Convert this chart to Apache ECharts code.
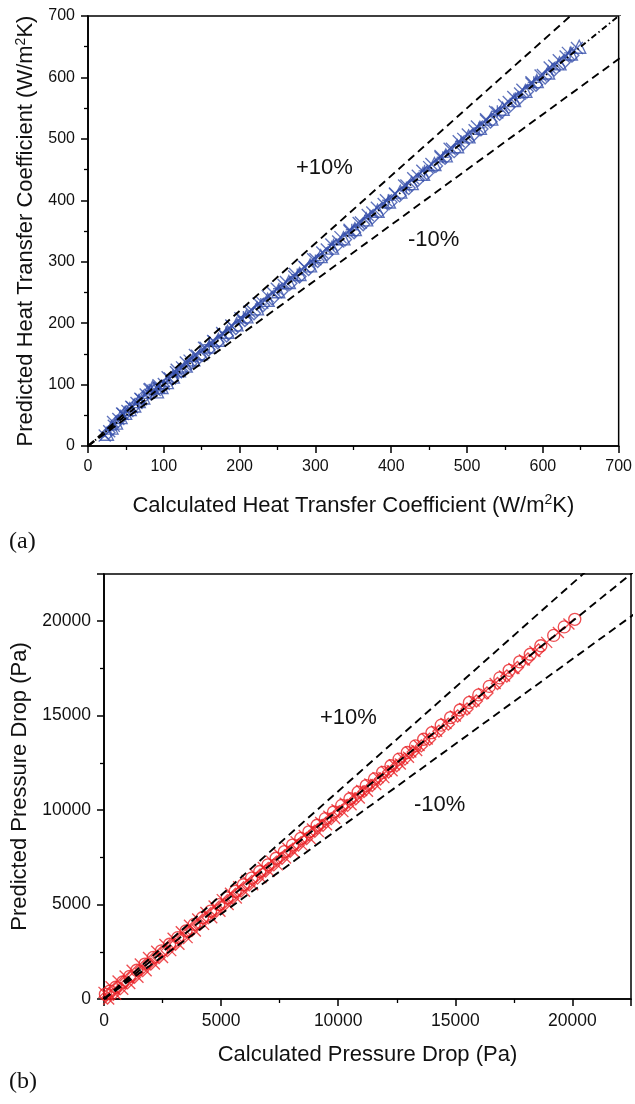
<!DOCTYPE html>
<html>
<head>
<meta charset="utf-8">
<script src="https://cdn.jsdelivr.net/npm/echarts@6/dist/echarts.min.js"></script>
<style>
html,body{margin:0;padding:0;background:#fff;}
#c{width:635px;height:1104px;}
</style>
</head>
<body>
<div id="c"></div>
<script>
// ---------- (a) Heat transfer coefficient ----------
const heatTicks = [0, 100, 200, 300, 400, 500, 600, 700];
const heatCalcX = [22,28,34,40,46,52,58,64,70,76,82,88,94,100,108,116,124,134,144,155,166,178,190,203,216,230,244,258,272,286,300,315,330,345,360,375,390,405,420,435,450,465,480,495,510,525,540,555,570,585,600,615,630,645];
const heatPredX = [17,24,33,44,52,57,63,70,76,84,93,91,95,101,110,120,128,139,147,160,170,182,195,207,221,233,249,262,276,291,304,320,333,350,364,380,394,410,424,440,454,470,484,500,514,530,543,560,574,590,604,619,634,648];
const heatCalcTri = [25,31,37,43,49,55,61,67,73,79,85,91,97,104,112,120,129,139,149,160,172,184,196,209,223,237,251,265,279,293,307,322,337,352,367,382,397,412,427,442,457,472,487,502,517,532,547,562,577,592,607,622,637,648];
const heatPredTri = [20,30,38,47,54,60,66,73,79,88,95,89,96,104,113,123,131,141,151,162,173,186,198,211,224,238,252,267,280,294,309,323,338,353,369,383,398,414,428,443,459,473,488,504,518,533,549,563,578,594,608,623,639,650];
const heatCalcPlus = [30,48,66,84,100,118,138,160,182,205,228,252,276,300,324,348,372,396,420,444,468,492,516,540,564,588,612,636];
const heatPredPlus = [26,50,70,90,97,118,138,165,185,210,231,256,279,302,328,352,375,400,421,448,470,496,518,545,566,592,614,640];
const heatCalcDia = [27,39,51,63,75,87,99,111,123,135,147,159,171,183,195,207,219,231,243,255,267,279,291,303,315,327,339,351,363,375,387,399,411,423,435,447,459,471,483,495,507,519,531,543,555,567,579,591,603,615,627,639];
const heatPredDia = [22,40,55,67,82,93,97,110,122,134,145,157,169,180,192,205,216,229,240,252,265,276,288,301,312,325,336,348,361,372,384,397,408,420,433,444,456,469,480,492,505,516,528,541,552,564,577,588,600,613,624,636];
const heatCalcX2 = [33,45,57,69,81,93,105,117,129,141,153,165,177,189,201,213,225,237,249,261,273,285,297,309,321,333,345,357,369,381,393,405,417,429,441,453,465,477,489,501,513,525,537,549,561,573,585,597,609,621,633];
const heatPredX2 = [39,53,64,77,92,99,112,124,136,148,160,171,184,196,208,219,232,244,256,267,280,292,304,315,328,340,352,363,376,388,400,411,424,436,448,459,472,484,496,507,520,532,544,555,568,580,592,603,616,628,640];

// ---------- (b) Pressure drop ----------
const pressTicks = [0, 5000, 10000, 15000, 20000];
const pressCalcCirc = [60,250,500,800,1100,1400,1750,2100,2450,2800,3150,3500,3850,4200,4550,4900,5250,5600,5950,6300,6650,7000,7350,7700,8050,8400,8750,9100,9450,9800,10150,10500,10850,11200,11550,11900,12250,12600,12950,13300,13650,14000,14400,14800,15200,15600,16000,16450,16900,17300,17750,18200,18650,19200,19650,20100];
const pressPredCirc = [250,420,620,900,1200,1520,1850,2200,2550,2900,3250,3600,3950,4300,4650,5000,5350,5700,6050,6400,6750,7100,7450,7800,8150,8500,8850,9200,9550,9900,10250,10600,10950,11300,11650,12000,12350,12700,13050,13400,13750,14100,14500,14900,15300,15700,16100,16550,17000,17400,17850,18250,18700,19250,19700,20100];
const pressCalcDia = [150,400,700,1000,1300,1650,2000,2350,2700,3050,3400,3750,4100,4450,4800,5150,5500,5850,6200,6550,6900,7250,7600,7950,8300,8650,9000,9350,9700,10050,10400,10750,11100,11450,11800,12150,12500,12850,13200,13550,13900,14300,14700,15100,15500,15900,16350,16800,17200,17650,18100,18550];
const pressPredDia = [50,250,550,860,1150,1500,1850,2200,2560,2900,3250,3620,3950,4300,4660,5000,5350,5720,6050,6400,6780,7100,7450,7820,8150,8500,8880,9200,9550,9920,10250,10600,10980,11300,11650,12020,12350,12700,13080,13400,13750,14180,14550,14980,15350,15780,16200,16700,17100,17550,18000,18480];
const pressCalcX = [0,300,600,900,1200,1550,1900,2250,2600,2950,3300,3650,4000,4350,4700,5050,5400,5750,6100,6450,6800,7150,7500,7850,8200,8550,8900,9250,9600,9950,10300,10650,11000,11350,11700,12050,12400,12750,13100,13450,13800,14200,14600,15000,15400,15800,16200,16700,17100,17500,17950,18400,18900,19400,19850];
const pressPredX = [350,650,950,1220,1520,1850,2200,2530,2880,3220,3560,3900,4240,4580,4920,5260,5600,5940,6280,6620,6960,7300,7640,7980,8320,8660,9000,9340,9680,10020,10360,10700,11040,11380,11720,12060,12400,12740,13080,13420,13760,14180,14580,14980,15380,15780,16180,16700,17100,17500,17950,18400,18880,19400,19850];
const pressCalcX2 = [200,500,800,1100,1450,1800,2150,2500,2850,3200,3550,3900,4250,4600,4950,5300,5650,6000,6350,6700,7050,7400,7750,8100,8450,8800,9150,9500,9850,10200,10550,10900,11250,11600,11950,12300,12650,13000,13350];
const pressPredX2 = [0,250,520,820,1150,1500,1850,2200,2560,2900,3250,3600,3950,4300,4650,5000,5350,5700,6050,6420,6760,7100,7460,7800,8160,8500,8860,9220,9560,9920,10280,10640,11000,11360,11720,12080,12440,12800,13160];

function zip(a, b) { return a.map((v, i) => [v, b[i]]); }

const BLUE = '#3750ab';
const RED = '#ea2227';
const XPATH = 'path://M0,0L10,10M10,0L0,10';
const PLUSPATH = 'path://M5,0L5,10M0,5L10,5';

const labelFont = 'Liberation Sans, Arial, sans-serif';

function axisCommon(fs, ticks) {
  return {
    axisLine: { show: true, lineStyle: { color: '#000', width: 1.7 } },
    axisTick: { show: true, inside: false, length: 7, lineStyle: { color: '#000', width: 1.5 } },
    minorTick: { show: true, splitNumber: 2, length: 4, lineStyle: { color: '#000', width: 1.3 } },
    splitLine: { show: false },
    minorSplitLine: { show: false },
    axisLabel: {
      color: '#111', fontSize: fs, fontFamily: labelFont, margin: 13,
      formatter: v => (ticks.indexOf(v) >= 0 ? String(v) : '')
    }
  };
}

const supRich = {
  sup: { fontSize: 14, fontFamily: labelFont, color: '#111', verticalAlign: 'bottom', padding: [0, 0, 11, 0] }
};

function refLines(gridIdx, maxv, middleType) {
  return [
    { k: 1.0, t: middleType },
    { k: 1.1, t: [8, 5] },
    { k: 0.9, t: [8, 5] }
  ].map(o => ({
    type: 'line',
    xAxisIndex: gridIdx, yAxisIndex: gridIdx,
    data: [[0, 0], [maxv * 1.2, maxv * 1.2 * o.k]],
    symbol: 'none',
    clip: true,
    silent: true,
    z: 5,
    lineStyle: { color: '#000', width: 1.9, type: o.t }
  }));
}

function scat(gridIdx, data, symbol, color, size, z) {
  return {
    type: 'scatter',
    xAxisIndex: gridIdx, yAxisIndex: gridIdx,
    data: data,
    symbol: symbol,
    symbolSize: size,
    silent: true,
    z: z || 2,
    itemStyle: { color: 'transparent', borderColor: color, borderWidth: 1.35 }
  };
}

const chart = echarts.init(document.getElementById('c'), null, { renderer: 'canvas' });

chart.setOption({
  animation: false,
  backgroundColor: '#fff',
  textStyle: { fontFamily: labelFont },
  grid: [
    { left: 88, top: 16, width: 532, height: 430, show: true, borderColor: '#000', borderWidth: 1.5, backgroundColor: 'transparent' },
    { left: 104, top: 574, width: 527, height: 425, show: true, borderColor: '#000', borderWidth: 1.5, backgroundColor: 'transparent' }
  ],
  xAxis: [
    Object.assign(axisCommon(16, heatTicks), {
      type: 'value', gridIndex: 0, min: heatTicks[0], max: heatTicks[heatTicks.length - 1], interval: 100,
      name: 'Calculated Heat Transfer Coefficient (W/m{sup|2}K)', nameLocation: 'middle', nameGap: 47,
      nameTextStyle: { fontSize: 22, color: '#111', fontFamily: labelFont, rich: supRich }
    }),
    Object.assign(axisCommon(17.5, pressTicks), {
      type: 'value', gridIndex: 1, min: pressTicks[0], max: 22500, interval: 5000,
      name: 'Calculated Pressure Drop (Pa)', nameLocation: 'middle', nameGap: 45,
      nameTextStyle: { fontSize: 22, color: '#111', fontFamily: labelFont }
    })
  ],
  yAxis: [
    Object.assign(axisCommon(16, heatTicks), {
      type: 'value', gridIndex: 0, min: heatTicks[0], max: heatTicks[heatTicks.length - 1], interval: 100,
      name: 'Predicted Heat Transfer Coefficient (W/m{sup|2}K)', nameLocation: 'middle', nameGap: 48,
      nameTextStyle: { fontSize: 22, color: '#111', fontFamily: labelFont, rich: supRich }
    }),
    Object.assign(axisCommon(17.5, pressTicks), {
      type: 'value', gridIndex: 1, min: pressTicks[0], max: 22500, interval: 5000,
      name: 'Predicted Pressure Drop (Pa)', nameLocation: 'middle', nameGap: 66,
      nameTextStyle: { fontSize: 22, color: '#111', fontFamily: labelFont }
    })
  ],
  series: [
    scat(0, zip(heatCalcTri, heatPredTri), 'triangle', BLUE, 13, 2),
    scat(0, zip(heatCalcDia, heatPredDia), 'diamond', BLUE, 13, 2),
    scat(0, zip(heatCalcX, heatPredX), XPATH, BLUE, 12, 3),
    scat(0, zip(heatCalcX2, heatPredX2), XPATH, BLUE, 12, 3),
    scat(0, zip(heatCalcPlus, heatPredPlus), PLUSPATH, BLUE, 12, 3),
    ...refLines(0, 700, [6, 3, 1.5, 3]),
    scat(1, zip(pressCalcCirc, pressPredCirc), 'circle', RED, 12, 2),
    scat(1, zip(pressCalcDia, pressPredDia), 'diamond', RED, 12, 3),
    scat(1, zip(pressCalcX, pressPredX), XPATH, RED, 11, 3),
    scat(1, zip(pressCalcX2, pressPredX2), XPATH, RED, 11, 3),
    ...refLines(1, 22500, [8, 5])
  ],
  graphic: [
    { type: 'text', left: 296, top: 157, style: { text: '+10%', fontSize: 22, fontFamily: labelFont, fill: '#111' } },
    { type: 'text', left: 408, top: 229, style: { text: '-10%', fontSize: 22, fontFamily: labelFont, fill: '#111' } },
    { type: 'text', left: 320, top: 707, style: { text: '+10%', fontSize: 22, fontFamily: labelFont, fill: '#111' } },
    { type: 'text', left: 414, top: 794, style: { text: '-10%', fontSize: 22, fontFamily: labelFont, fill: '#111' } },
    { type: 'text', left: 9, top: 530, style: { text: '(a)', fontSize: 24, fontFamily: 'Liberation Serif, DejaVu Serif, serif', fill: '#111' } },
    { type: 'text', left: 9, top: 1070, style: { text: '(b)', fontSize: 24, fontFamily: 'Liberation Serif, DejaVu Serif, serif', fill: '#111' } }
  ]
});
</script>
</body>
</html>
